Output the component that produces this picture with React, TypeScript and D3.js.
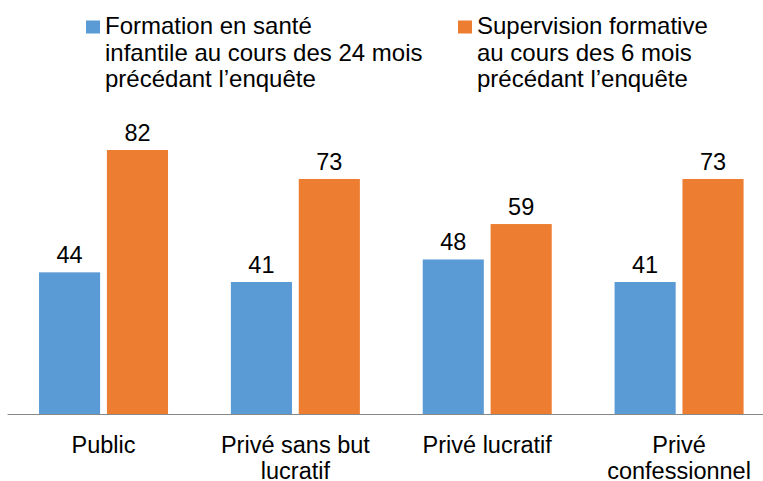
import React from "react";
import * as d3 from "d3";

const categories = ["Public", "Privé sans but lucratif", "Privé lucratif", "Privé confessionnel"];
const categoryLines = [["Public"], ["Privé sans but", "lucratif"], ["Privé lucratif"], ["Privé", "confessionnel"]];
const seriesNames = ["formation", "supervision"];
const seriesLegend = [
  ["Formation en santé", "infantile au cours des 24 mois", "précédant l’enquête"],
  ["Supervision formative", "au cours des 6 mois", "précédant l’enquête"],
];
const formationValues = [44, 41, 48, 41];
const supervisionValues = [82, 73, 59, 73];
const colors = ["#5b9bd5", "#ed7d31"];

const W = 763;
const H = 481;
const FONT = "Liberation Sans, Arial, sans-serif";

export default function App() {
  const x0 = d3.scaleBand<string>().domain(categories).range([7.6, 775]).padding(0);
  const groupInner = 129;
  const off = (x0.step() - groupInner) / 2;
  const x1 = d3.scaleBand<string>().domain(seriesNames).range([off, off + groupInner]).paddingInner(0.1).paddingOuter(0);
  const y = d3.scaleLinear().domain([0, 82]).range([414, 150]);
  const values = [formationValues, supervisionValues];

  return (
    <svg width={W} height={H} style={{ position: "absolute", left: 0, top: 0, background: "#fff" }} fontFamily={FONT}>
      <rect width={W} height={H} fill="#fff" />
      {categories.map((c, ci) =>
        seriesNames.map((s, si) => {
          const v = values[si][ci];
          const bx = (x0(c) ?? 0) + (x1(s) ?? 0);
          return (
            <g key={c + s}>
              <rect x={bx} y={y(v)} width={x1.bandwidth()} height={y(0) - y(v)} fill={colors[si]} />
              <text x={bx + x1.bandwidth() / 2} y={y(v) - 9} textAnchor="middle" fontSize={23.5} fill="#000">
                {v}
              </text>
            </g>
          );
        })
      )}
      <line x1={7.6} x2={W} y1={y(0) + 0.5} y2={y(0) + 0.5} stroke="#888" strokeWidth={1} />
      {categories.map((c, ci) => (
        <text key={c} x={(x0(c) ?? 0) + x0.step() / 2} y={453} textAnchor="middle" fontSize={23.5} fill="#000">
          {categoryLines[ci].map((l, li) => (
            <tspan key={li} x={(x0(c) ?? 0) + x0.step() / 2} dy={li === 0 ? 0 : 26}>
              {l}
            </tspan>
          ))}
        </text>
      ))}
      {seriesLegend.map((lines, si) => {
        const lx = si === 0 ? 86 : 458;
        return (
          <g key={si}>
            <rect x={lx} y={20.5} width={14} height={13} fill={colors[si]} />
            <text x={lx + 19} y={34.3} fontSize={24} fill="#000">
              {lines.map((l, li) => (
                <tspan key={li} x={lx + 19} dy={li === 0 ? 0 : 26.5}>
                  {l}
                </tspan>
              ))}
            </text>
          </g>
        );
      })}
    </svg>
  );
}
